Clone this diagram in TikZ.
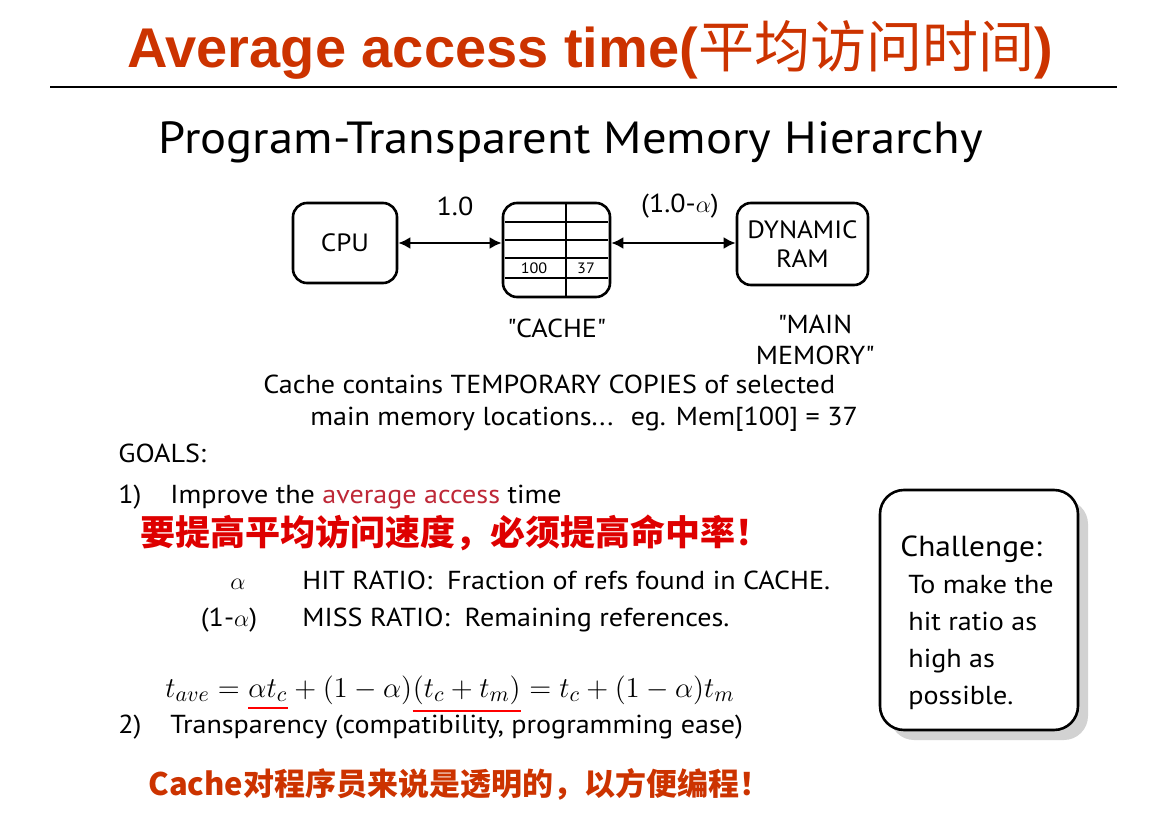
\documentclass[tikz,border=0pt]{standalone}
\usepackage{fontspec}
\setmainfont{PT Sans}[FakeStretch=1.08]
\newfontfamily\titlefont{Liberation Sans}
\newfontfamily\cjk{Noto Sans CJK SC}
\usetikzlibrary{shapes,arrows.meta,positioning,shadows}

\definecolor{titlered}{RGB}{204,51,0}
\definecolor{hanred}{RGB}{222,0,0}
\definecolor{accred}{RGB}{190,40,55}

\begin{document}
\begin{tikzpicture}[
    x=0.5pt, y=-0.5pt,
    unit/.style={rectangle, draw, rounded corners=7pt, line width=1.3pt, inner sep=0pt, font=\fontsize{12.5}{14.5}\selectfont},
    hand/.style={inner sep=0pt, font=\fontsize{13}{15.5}\selectfont},
    cell/.style={inner sep=0pt, font=\fontsize{7.5}{9}\selectfont},
    han/.style={inner sep=0pt, font=\cjk\bfseries\fontsize{17.5}{20}\selectfont, text=hanred},
    eq/.style={inner sep=0pt, font=\fontsize{15.5}{18}\selectfont},
    arrow/.style={line width=1.4pt, {Latex[length=6pt,width=6pt]}-{Latex[length=6pt,width=6pt]}},
    redline/.style={line width=1pt, red}
]
\useasboundingbox (0,0) rectangle (1174,824);

% Title
\node[inner sep=0pt, anchor=base, text=titlered, font=\fontsize{28}{32}\selectfont] (title) at (590,68)
    {{\titlefont\bfseries Average access time(}{\cjk 平均访问时间}{\titlefont\bfseries )}};
\coordinate (ruleL) at (50,87);
\coordinate (ruleR) at (1117,87);
\draw[line width=1pt] (ruleL) -- (ruleR);

% Heading
\node[hand, anchor=base, font=\fontsize{22.5}{26}\selectfont] (heading) at (571,154) {Program-Transparent Memory Hierarchy};

% Memory units
\node[unit, minimum width=52pt, minimum height=40pt] (cpu) at (345,243) {CPU};
\node[unit, minimum width=53.5pt, minimum height=47pt] (cache) at (556.5,250) {};
\node[unit, minimum width=65.5pt, minimum height=41pt, align=center] (dram) at (802.5,244) {DYNAMIC\\RAM};

% Cache lines
\foreach \yy/\lw in {222/1.3pt, 240/1.3pt, 258/1.3pt, 278/0.6pt}
    \draw[line width=\lw] (505,\yy) -- (608,\yy);
\draw[line width=1.2pt] (566,203) -- (566,297);
\node[cell] (addr) at (534,268) {100};
\node[cell] (data) at (586,268) {37};

% Arrows
\draw[arrow] (cpu.east) -- (cpu.east -| cache.west);
\draw[arrow] (cpu.east -| cache.east) -- (cpu.east -| dram.west);
\node[hand] (hit) at (455,206) {1.0};
\node[hand] (miss) at (680,206) {(1.0-$\alpha$)};

% Unit names
\node[hand, below=10pt of cache] (cachename) {\textquotedbl CACHE\textquotedbl};
\node[hand, align=center] (mainname) at (815,340) {\textquotedbl MAIN\\MEMORY\textquotedbl};

% Notes
\node[hand, anchor=base west] (note1) at (263,393) {Cache contains TEMPORARY COPIES of selected};
\node[hand, anchor=base west] (note2) at (310,425) {main memory locations... \ eg. Mem[100] = 37};

% Goals
\node[hand, anchor=base west] (goals) at (118,462) {GOALS:};
\node[hand, anchor=base west] (g1num) at (118,503) {1)};
\node[hand, anchor=base west] (g1) at (170,503) {Improve the \textcolor{accred}{average access} time};
\node[han, anchor=base west] (g1han) at (140,545) {要提高平均访问速度，必须提高命中率！};
\node[hand, anchor=base] (alpha) at (238,589) {$\alpha$};
\node[hand, anchor=base west] (hitdef) at (302,589) {HIT RATIO: \ Fraction of refs found in CACHE.};
\node[hand, anchor=base] (malpha) at (229,626) {(1-$\alpha$)};
\node[hand, anchor=base west] (missdef) at (302,626) {MISS RATIO: \ Remaining references.};

% Formula
\node[eq, anchor=base west] (eqA) at (165,697) {$t_{ave} = {}$};
\node[eq, base right=0pt of eqA] (eqB) {$\alpha t_c$};
\node[eq, base right=0pt of eqB] (eqC) {${}+(1-\alpha)$};
\node[eq, base right=0pt of eqC] (eqD) {$(t_c+t_m)$};
\node[eq, base right=0pt of eqD] (eqE) {${}= t_c+(1-\alpha)t_m$};
\draw[redline] ([yshift=-3pt]eqB.south west) -- ([yshift=-3pt]eqB.south east);
\draw[redline] ([yshift=-3pt]eqD.south west) -- ([yshift=-3pt]eqD.south east);

\node[hand, anchor=base west] (g2num) at (118,733) {2)};
\node[hand, anchor=base west] (g2) at (170,733) {Transparency (compatibility, programming ease)};
\node[inner sep=0pt, anchor=base west, text=titlered, font=\cjk\bfseries\fontsize{15.5}{18}\selectfont] (g2han) at (148,795) {Cache对程序员来说是透明的，以方便编程！};

% Challenge
\node[unit, fill=white, rounded corners=12pt, minimum width=99pt, minimum height=120pt,
    drop shadow={shadow xshift=5pt, shadow yshift=-5pt, fill=gray!70}] (challenge) at (979,610) {};
\node[hand, anchor=base west, font=\fontsize{14.5}{18}\selectfont] (ch0) at (900,556) {Challenge:};
\node[hand, anchor=base west, font=\fontsize{13}{15}\selectfont] (ch1) at (908,593) {To make the};
\node[hand, anchor=base west, font=\fontsize{13}{15}\selectfont] (ch2) at (908,630) {hit ratio as};
\node[hand, anchor=base west, font=\fontsize{13}{15}\selectfont] (ch3) at (908,667) {high as};
\node[hand, anchor=base west, font=\fontsize{13}{15}\selectfont] (ch4) at (908,704) {possible.};

\end{tikzpicture}
\end{document}
